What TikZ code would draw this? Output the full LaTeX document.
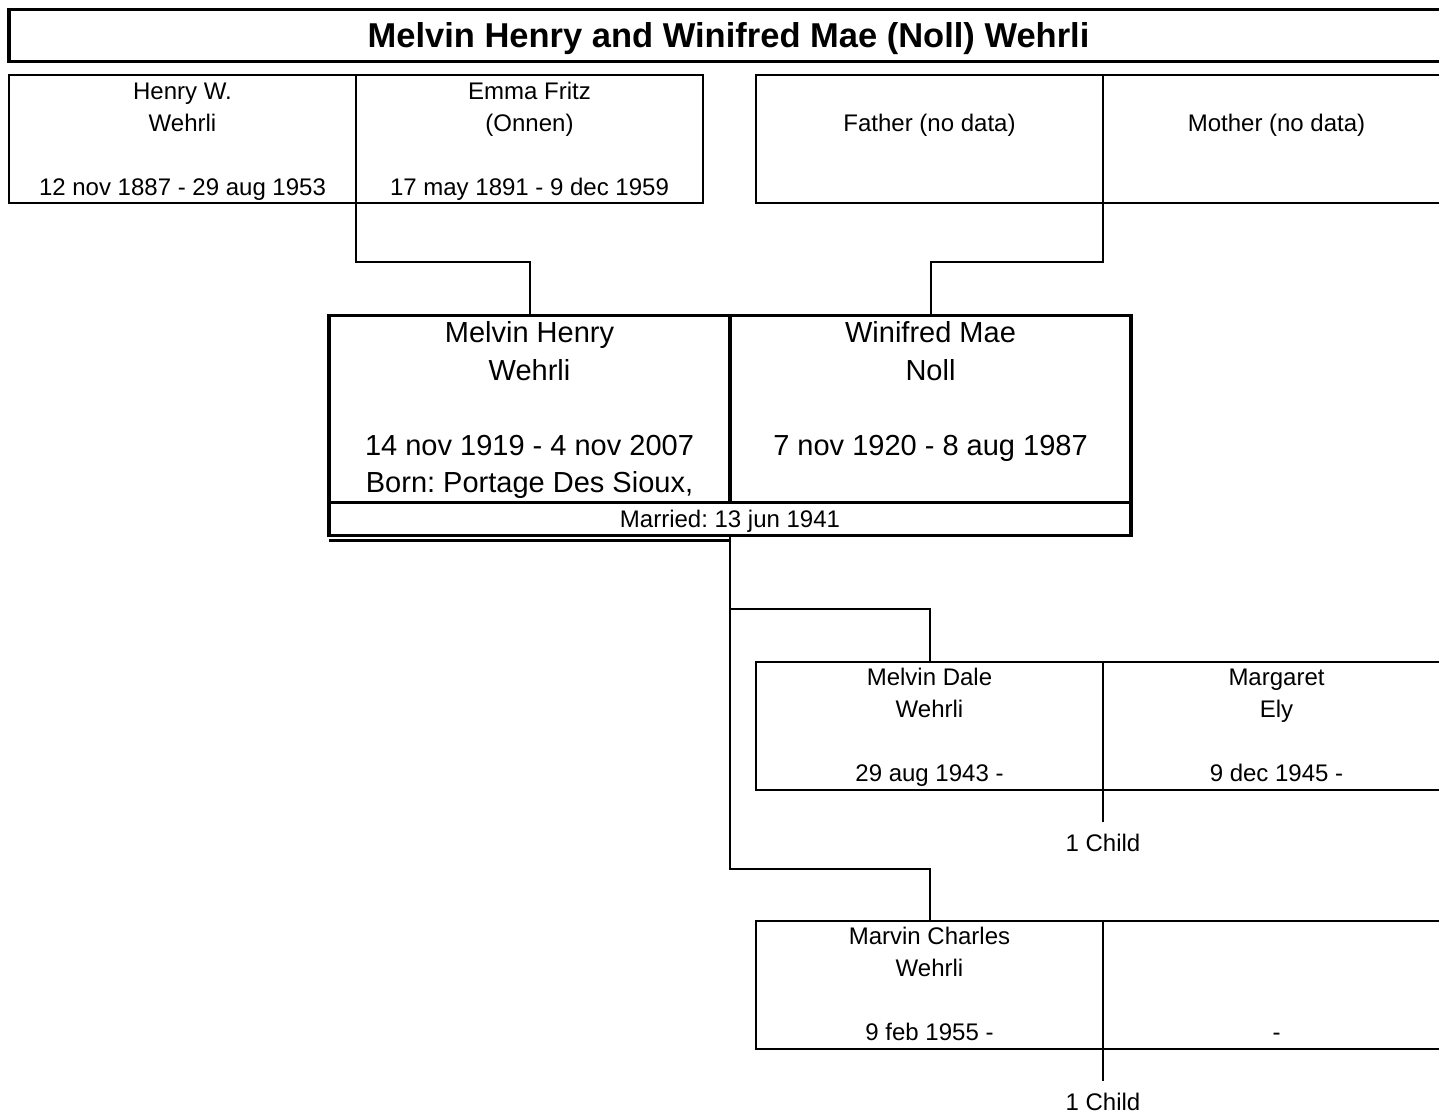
\documentclass[tikz,border=0pt]{standalone}
\usepackage{fontspec}
\setmainfont{Liberation Sans}
\usetikzlibrary{positioning}
\frenchspacing

% line struts for the boxes (height + depth = line distance)
\newcommand{\pstr}{\rule[-3.8pt]{0pt}{16pt}}
\newcommand{\cstr}{\rule[-4.9pt]{0pt}{18.75pt}}

\tikzset{
  person/.style={draw, rectangle, line width=1pt, inner sep=0pt, outer sep=0pt,
    minimum width=173.5pt, minimum height=64pt, align=center,
    font=\fontsize{12}{16}\selectfont},
  couple/.style={draw, rectangle, line width=1.6pt, inner sep=0pt, outer sep=0pt,
    minimum width=200.5pt, minimum height=93pt, align=center,
    font=\fontsize{14.5}{18.75}\selectfont},
  marriage/.style={draw, rectangle, line width=1.6pt, inner sep=0pt, outer sep=0pt,
    minimum width=401pt, minimum height=16.5pt, text height=8.6pt, text depth=0pt,
    font=\fontsize{12}{16}\selectfont},
  headline/.style={draw, rectangle, line width=1.6pt, inner sep=0pt, outer sep=0pt,
    minimum width=719.5pt, minimum height=26pt, text height=12.4pt, text depth=0pt,
    font=\fontsize{17.25}{20}\selectfont\bfseries},
  link/.style={line width=1pt},
  childcount/.style={inner sep=0pt, font=\fontsize{12}{16}\selectfont}
}

\begin{document}
\begin{tikzpicture}[x=0.5pt, y=-0.5pt]
  \clip (0,0) rectangle (1439,1114);

  \node[headline] (title) at (728.5,35.5) {Melvin Henry and Winifred Mae (Noll) Wehrli};

  % parents of both
  \node[person] (hw) at (182.5,139) {\pstr Henry W.\\\pstr Wehrli\\\pstr\\\pstr 12 nov 1887 - 29 aug 1953};
  \node[person, right=0pt of hw] (ef) {\pstr Emma Fritz\\\pstr (Onnen)\\\pstr\\\pstr 17 may 1891 - 9 dec 1959};
  \node[person] (fa) at (929.5,139) {\pstr\\\pstr Father (no data)\\\pstr\\\pstr};
  \node[person, right=0pt of fa] (mo) {\pstr\\\pstr Mother (no data)\\\pstr\\\pstr};

  % the couple
  \node[couple] (mh) at (529.5,409) {\cstr Melvin Henry\\\cstr Wehrli\\\cstr\\\cstr 14 nov 1919 - 4 nov 2007\\\cstr Born: Portage Des Sioux,};
  \node[couple, right=0pt of mh] (wm) {\cstr Winifred Mae\\\cstr Noll\\\cstr\\\cstr 7 nov 1920 - 8 aug 1987\\\cstr};
  \node[marriage, below=0pt of mh.south east] (mar) {Married: 13 jun 1941};
  \draw[line width=1.6pt] ([yshift=-2.5pt]mar.south west) -- ([yshift=-2.5pt]mar.south);

  % children
  \node[person] (md) at (929.5,725.5) {\pstr Melvin Dale\\\pstr Wehrli\\\pstr\\\pstr 29 aug 1943 -};
  \node[person, right=0pt of md] (mg) {\pstr Margaret\\\pstr Ely\\\pstr\\\pstr 9 dec 1945 -};
  \node[person] (mc) at (929.5,984.5) {\pstr Marvin Charles\\\pstr Wehrli\\\pstr\\\pstr 9 feb 1955 -};
  \node[person, right=0pt of mc] (sp) {\pstr\\\pstr\\\pstr\\\pstr -};

  \coordinate (c1) at ([yshift=-16pt]md.south east);
  \node[childcount, below=6pt of c1] (n1) {1 Child};
  \coordinate (c2) at ([yshift=-16pt]mc.south east);
  \node[childcount, below=6pt of c2] (n2) {1 Child};

  % connectors
  \draw[link] (hw.south east) -- ++(0,59) -| (mh.north);
  \draw[link] (fa.south east) -- ++(0,59) -| (wm.north);
  \draw[link] (mar.south) -- ++(0,73) -| (md.north);
  \draw[link] (mar.south) -- ++(0,333) -| (mc.north);
  \draw[link] (md.south east) -- (c1);
  \draw[link] (mc.south east) -- (c2);
\end{tikzpicture}
\end{document}
